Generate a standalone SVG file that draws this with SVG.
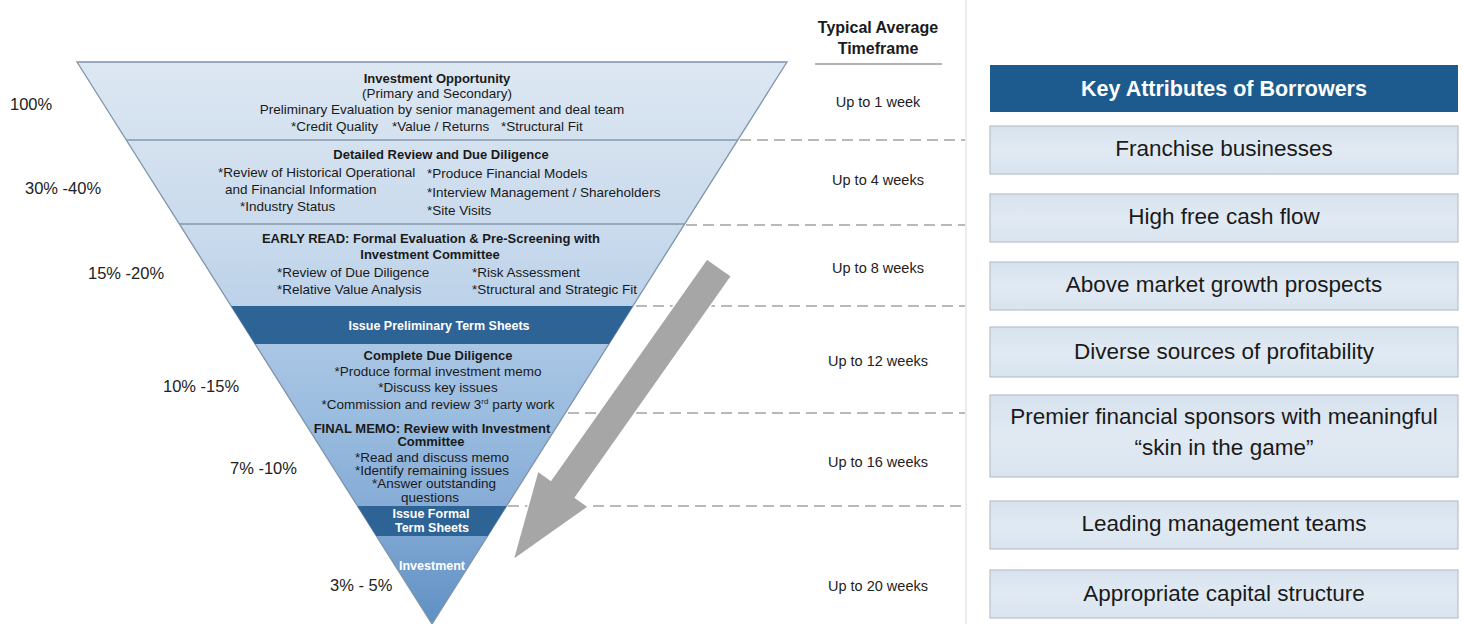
<svg xmlns="http://www.w3.org/2000/svg" width="1463" height="624" viewBox="0 0 1463 624">
<defs>
<linearGradient id="fun" gradientUnits="userSpaceOnUse" x1="0" y1="62" x2="0" y2="624">
<stop offset="0" stop-color="#dce7f2"/>
<stop offset="0.139" stop-color="#d4e1ef"/>
<stop offset="0.288" stop-color="#cadbed"/>
<stop offset="0.434" stop-color="#bcd2e9"/>
<stop offset="0.502" stop-color="#aac6e4"/>
<stop offset="0.625" stop-color="#9bbde0"/>
<stop offset="0.79" stop-color="#86acd6"/>
<stop offset="0.843" stop-color="#7ca5d1"/>
<stop offset="1" stop-color="#5f90c3"/>
</linearGradient>
<linearGradient id="box" x1="0" y1="0" x2="0" y2="1">
<stop offset="0" stop-color="#d6e2ee"/>
<stop offset="0.5" stop-color="#e1eaf3"/>
<stop offset="1" stop-color="#d9e4ef"/>
</linearGradient>
</defs>
<style>
text{font-family:"Liberation Sans",Arial,sans-serif;fill:#1a1a1a}
.f{font-size:13.5px}
.fb{font-size:13px;font-weight:bold}
.w{fill:#ffffff;font-weight:bold;font-size:12.5px}
.c{text-anchor:middle}
.pct{font-size:16.5px;fill:#222}
.tf{font-size:14.5px;text-anchor:middle;fill:#222}
.band{fill:#2e6396}
.sep{stroke:#8497aa;stroke-width:1.3;fill:none}
.dash{stroke:#a3a3a3;stroke-width:1.3;stroke-dasharray:11 6;fill:none}
.bx{fill:url(#box);stroke:#b9c1ca;stroke-width:1.2}
.bt{font-size:22.5px;text-anchor:middle;fill:#1a1a1a}
</style>
<rect width="1463" height="624" fill="#ffffff"/>
<line x1="966" y1="0" x2="966" y2="624" stroke="#e4e6e8" stroke-width="1.5"/>

<g id="funnel">
<polygon points="77,62 787,62 432,624" fill="url(#fun)" stroke="#7f94a9" stroke-width="1.3"/>
<polygon class="band" points="231.1,306 632.9,306 608.9,344 255.1,344"/>
<polygon class="band" points="357.5,506 506.5,506 487.6,536 376.4,536"/>
<line class="sep" x1="126.3" y1="140" x2="737.7" y2="140"/>
<line class="sep" x1="179.3" y1="224" x2="684.7" y2="224"/>
</g>

<g id="stage1">
<text class="fb c" x="437" y="82.5">Investment Opportunity</text>
<text class="f c" x="437" y="97.5">(Primary and Secondary)</text>
<text class="f c" x="442" y="113.5">Preliminary Evaluation by senior management and deal team</text>
<text class="f" x="291" y="130.5">*Credit Quality</text>
<text class="f" x="392" y="130.5">*Value / Returns</text>
<text class="f" x="501" y="130.5">*Structural Fit</text>
</g>
<g id="stage2">
<text class="fb c" x="441" y="158.5">Detailed Review and Due Diligence</text>
<text class="f" x="218" y="177">*Review of Historical Operational</text>
<text class="f" x="225" y="193.5">and Financial Information</text>
<text class="f" x="240" y="210.5">*Industry Status</text>
<text class="f" x="427" y="177.5">*Produce Financial Models</text>
<text class="f" x="427" y="197">*Interview Management / Shareholders</text>
<text class="f" x="427" y="214.5">*Site Visits</text>
</g>
<g id="stage3">
<text class="fb c" x="431" y="242.5">EARLY READ: Formal Evaluation &amp; Pre-Screening with</text>
<text class="fb c" x="430" y="258.5">Investment Committee</text>
<text class="f" x="277" y="276.5">*Review of Due Diligence</text>
<text class="f" x="277" y="293.5">*Relative Value Analysis</text>
<text class="f" x="472" y="276.5">*Risk Assessment</text>
<text class="f" x="472" y="293.5">*Structural and Strategic Fit</text>
</g>
<g id="band1">
<text class="w c" x="439" y="329.5">Issue Preliminary Term Sheets</text>
</g>
<g id="stage4">
<text class="fb c" x="438" y="359.5">Complete Due Diligence</text>
<text class="f c" x="438" y="375.5">*Produce formal investment memo</text>
<text class="f c" x="438" y="391.5">*Discuss key issues</text>
<text class="f c" x="438" y="408.5">*Commission and review 3<tspan font-size="8" dy="-5">rd</tspan><tspan dy="5"> party work</tspan></text>
</g>
<g id="stage5">
<text class="fb c" x="432" y="432.5">FINAL MEMO: Review with Investment</text>
<text class="fb c" x="431" y="445.5">Committee</text>
<text class="f c" x="432" y="461.5">*Read and discuss memo</text>
<text class="f c" x="432" y="474.5">*Identify remaining issues</text>
<text class="f c" x="434" y="487.5">*Answer outstanding</text>
<text class="f c" x="430" y="502">questions</text>
</g>
<g id="band2">
<text class="w c" x="431" y="517.5">Issue Formal</text>
<text class="w c" x="432" y="532">Term Sheets</text>
</g>
<g id="stage6">
<text class="w c" x="432" y="569.5">Investment</text>
</g>

<g id="connectors">
<line class="dash" x1="740" y1="140" x2="965" y2="140"/>
<line class="dash" x1="686" y1="225" x2="965" y2="225"/>
<line class="dash" x1="636" y1="306" x2="965" y2="306"/>
<line class="dash" x1="568" y1="413" x2="965" y2="413"/>
<line class="dash" x1="508" y1="506" x2="965" y2="506"/>
<polygon points="513,560 537.8,471 550.8,480.3 706.9,258.9 731.5,276.1 575.4,497.5 588.4,506.8" fill="#a6a6a6" stroke="#ffffff" stroke-width="1.5"/>
</g>

<g id="percentages">
<text class="pct" x="10" y="110">100%</text>
<text class="pct" x="25" y="194">30% -40%</text>
<text class="pct" x="88" y="279">15% -20%</text>
<text class="pct" x="163" y="392">10% -15%</text>
<text class="pct" x="230" y="474">7% -10%</text>
<text class="pct" x="330" y="591">3% - 5%</text>
</g>

<g id="timeframes">
<text x="878" y="33" style="font-size:16px;font-weight:bold;text-anchor:middle">Typical Average</text>
<text x="878" y="54" style="font-size:16px;font-weight:bold;text-anchor:middle">Timeframe</text>
<line x1="815" y1="64" x2="942" y2="64" stroke="#9a9a9a" stroke-width="1.3"/>
<text class="tf" x="878" y="107">Up to 1 week</text>
<text class="tf" x="878" y="185">Up to 4 weeks</text>
<text class="tf" x="878" y="273">Up to 8 weeks</text>
<text class="tf" x="878" y="366">Up to 12 weeks</text>
<text class="tf" x="878" y="467">Up to 16 weeks</text>
<text class="tf" x="878" y="591">Up to 20 weeks</text>
</g>

<g id="attr-header">
<rect x="990" y="65" width="468" height="47" fill="#1d5b8f"/>
<text x="1224" y="95.5" style="font-size:21.5px;font-weight:bold;text-anchor:middle;fill:#ffffff">Key Attributes of Borrowers</text>
</g>
<g id="attr1"><rect class="bx" x="990" y="126" width="468" height="48"/><text class="bt" x="1224" y="156">Franchise businesses</text></g>
<g id="attr2"><rect class="bx" x="990" y="194" width="468" height="48"/><text class="bt" x="1224" y="224">High free cash flow</text></g>
<g id="attr3"><rect class="bx" x="990" y="262" width="468" height="48"/><text class="bt" x="1224" y="292">Above market growth prospects</text></g>
<g id="attr4"><rect class="bx" x="990" y="327" width="468" height="50"/><text class="bt" x="1224" y="359">Diverse sources of profitability</text></g>
<g id="attr5"><rect class="bx" x="990" y="395" width="468" height="82"/><text class="bt" x="1224" y="424">Premier financial sponsors with meaningful</text><text class="bt" x="1224" y="455">“skin in the game”</text></g>
<g id="attr6"><rect class="bx" x="990" y="501" width="468" height="48"/><text class="bt" x="1224" y="531">Leading management teams</text></g>
<g id="attr7"><rect class="bx" x="990" y="570" width="468" height="48"/><text class="bt" x="1224" y="601">Appropriate capital structure</text></g>
</svg>
